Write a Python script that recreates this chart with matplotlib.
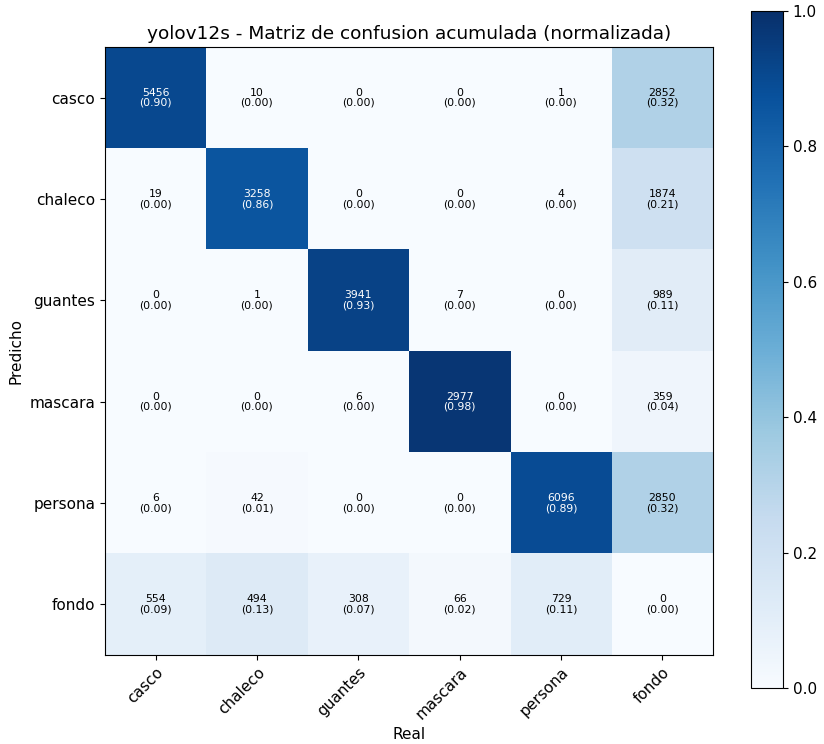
import numpy as np
import matplotlib
matplotlib.use("Agg")
import matplotlib.pyplot as plt

classes = ["casco", "chaleco", "guantes", "mascara", "persona", "fondo"]

# rows: predicted class, columns: true class
row_casco = [5456, 10, 0, 0, 1, 2852]
row_chaleco = [19, 3258, 0, 0, 4, 1874]
row_guantes = [0, 1, 3941, 7, 0, 989]
row_mascara = [0, 0, 6, 2977, 0, 359]
row_persona = [6, 42, 0, 0, 6096, 2850]
row_fondo = [554, 494, 308, 66, 729, 0]

counts = np.array([row_casco, row_chaleco, row_guantes,
                   row_mascara, row_persona, row_fondo], dtype=float)
col_tot = counts.sum(axis=0, keepdims=True)
norm = np.divide(counts, col_tot, out=np.zeros_like(counts), where=col_tot > 0)

fig = plt.figure(figsize=(8.24, 7.44), dpi=100)
ax = fig.add_axes([0.1274, 0.1196, 0.7379, 0.8172])
cax = fig.add_axes([0.9114, 0.0753, 0.0388, 0.91])

im = ax.imshow(norm, cmap="Blues", vmin=0, vmax=1, interpolation="nearest", aspect="auto")
cb = fig.colorbar(im, cax=cax)
cb.ax.tick_params(labelsize=11)

n = len(classes)
ax.set_xticks(range(n))
ax.set_yticks(range(n))
ax.set_xticklabels(classes, rotation=45, ha="right", rotation_mode="anchor", fontsize=11)
ax.set_yticklabels(classes, fontsize=11)
ax.set_xlabel("Real", fontsize=11)
ax.set_ylabel("Predicho", fontsize=11)
ax.set_title("yolov12s - Matriz de confusion acumulada (normalizada)", fontsize=13.3)

for i in range(n):
    for j in range(n):
        color = "white" if norm[i, j] > 0.5 else "black"
        ax.text(j, i, f"{int(counts[i, j])}\n({norm[i, j]:.2f})",
                ha="center", va="center", color=color, fontsize=7.8, linespacing=1.0)

fig.savefig("out.png", dpi=100)
